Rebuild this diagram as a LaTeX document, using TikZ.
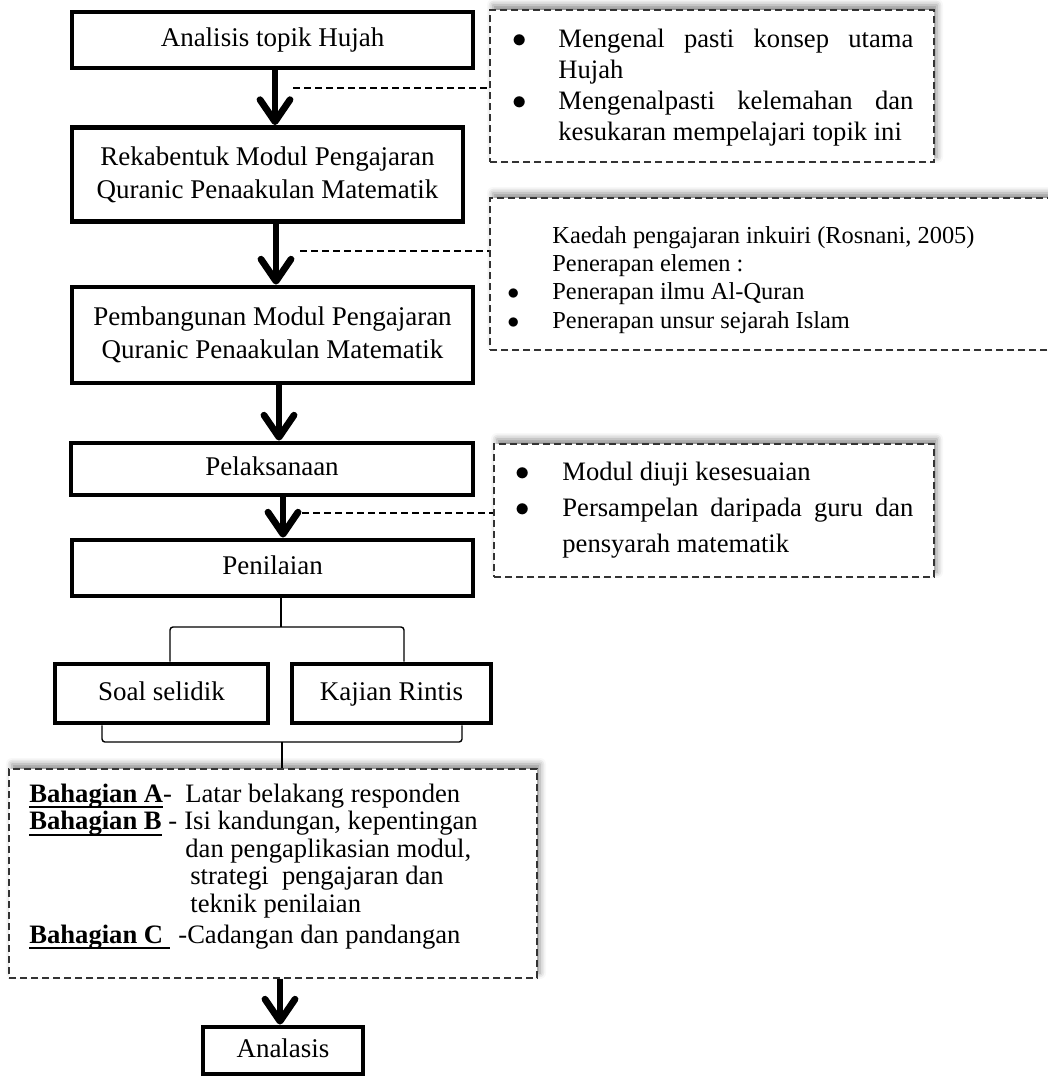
\documentclass[tikz,border=0pt]{standalone}
\usepackage{fontspec}
\setmainfont{Liberation Serif}
\usetikzlibrary{arrows.meta,shadows.blur,positioning}

\newcommand{\garis}[1]{\setbox0\hbox{\textbf{#1}}\rlap{\rule[-3.2pt]{\wd0}{1.1pt}}\box0}

\tikzset{
  stage/.style={draw, line width=2.4pt, align=center, inner sep=0pt,
    font=\fontsize{13.5}{16.5}\selectfont},
  oneline/.style={text height=9.5pt, text depth=3pt},
  note/.style={draw=black!80, dash pattern=on 3.5pt off 2pt, line width=0.7pt,
    fill=white, inner sep=0pt,
    blur shadow={shadow xshift=1.5pt, shadow yshift=2.5pt,
      shadow blur radius=3pt, shadow opacity=45}},
  notetext/.style={anchor=base west, inner sep=0pt,
    font=\fontsize{13.3}{15.5}\selectfont},
  flow/.style={line width=3.4pt,
    -{Straight Barb[length=11pt, width=15pt, round]}},
  hint/.style={dash pattern=on 3.5pt off 2pt, line width=0.7pt},
  link/.style={line width=0.7pt, rounded corners=1.5pt}
}

\begin{document}
\begin{tikzpicture}[x=0.5pt, y=-0.5pt]
  \useasboundingbox (0,0) rectangle (1048,1078);
  \clip (0,0) rectangle (1048,1078);

  % main stages
  \node[stage, oneline, minimum width=200.5pt, minimum height=28pt] (topik) at (272.5,40) {Analisis topik Hujah};
  \node[stage, minimum width=195.5pt, minimum height=47pt] (reka) at (267.5,174.5) {Rekabentuk Modul Pengajaran\\Quranic Penaakulan Matematik};
  \node[stage, minimum width=200.5pt, minimum height=48pt] (bina) at (272.5,335) {Pembangunan Modul Pengajaran\\Quranic Penaakulan Matematik};
  \node[stage, oneline, minimum width=201pt, minimum height=26pt] (laksana) at (272,469) {Pelaksanaan};
  \node[stage, oneline, minimum width=200.5pt, minimum height=28pt] (nilai) at (272.5,568) {Penilaian};
  \node[stage, oneline, minimum width=106.5pt, minimum height=29.5pt] (soal) at (161.5,693.5) {Soal selidik};
  \node[stage, oneline, minimum width=99.5pt, minimum height=29.5pt] (rintis) at (391.5,693.5) {Kajian Rintis};
  \node[stage, oneline, minimum width=80pt, minimum height=23.5pt] (analasis) at (283,1050.5) {Analasis};

  % dashed notes
  \node[note, minimum width=222pt, minimum height=76pt] (n1) at (712,86) {};
  \node[note, minimum width=290pt, minimum height=76pt] (n2) at (780,274) {};
  \node[note, minimum width=220pt, minimum height=66.5pt] (n3) at (714,510.5) {};
  \node[note, minimum width=264pt, minimum height=104.5pt] (n4) at (273,873.5) {};

  \node[notetext] (t1) at (512,47) {\begin{tabular}[t]{@{}p{23pt}@{}p{177.5pt}@{}}
    $\bullet$ & Mengenal pasti konsep utama\linebreak Hujah\\
    $\bullet$ & Mengenalpasti kelemahan dan\linebreak kesukaran mempelajari topik ini
  \end{tabular}};
  \node[notetext, font=\fontsize{12.2}{14.2}\selectfont] (t2) at (507,243) {\begin{tabular}[t]{@{}p{22.5pt}@{}l@{}}
    & Kaedah pengajaran inkuiri (Rosnani, 2005)\\
    & Penerapan elemen :\\
    $\bullet$ & Penerapan ilmu Al-Quran\\
    $\bullet$ & Penerapan unsur sejarah Islam
  \end{tabular}};
  \node[notetext, font=\fontsize{13.3}{18}\selectfont] (t3) at (515,480) {\begin{tabular}[t]{@{}p{23.5pt}@{}p{175.5pt}@{}}
    $\bullet$ & Modul diuji kesesuaian\\
    $\bullet$ & Persampelan daripada guru dan\linebreak pensyarah matematik
  \end{tabular}};
  \node[notetext, font=\fontsize{13.3}{13.8}\selectfont] (t4) at (29,802) {\begin{tabular}[t]{@{}l@{}}
    \makebox[78pt][l]{\garis{Bahagian A}-}Latar belakang responden\\
    \makebox[77.5pt][l]{\garis{Bahagian B}\ -}Isi kandungan, kepentingan\\
    \hspace*{78pt}dan pengaplikasian modul,\\
    \hspace*{80.5pt}strategi\ \ pengajaran dan\\
    \hspace*{80.5pt}teknik penilaian\\[1.5pt]
    \makebox[74.5pt][l]{\garis{Bahagian C\ }}-Cadangan dan pandangan
  \end{tabular}};

  % arrows
  \coordinate (x1) at (275,0);
  \coordinate (x2) at (276,0);
  \coordinate (x3) at (279,0);
  \coordinate (x4) at (283,0);
  \coordinate (x5) at (280,0);
  \draw[flow] (topik.south -| x1) -- (reka.north -| x1);
  \draw[flow] (reka.south -| x2) -- (bina.north -| x2);
  \draw[flow] (bina.south -| x3) -- (laksana.north -| x3);
  \draw[flow] (laksana.south -| x4) -- (nilai.north -| x4);
  \draw[flow] (n4.south -| x5) -- (analasis.north -| x5);

  % dashed hints
  \coordinate (h1) at (293,88);
  \coordinate (h2) at (300,251);
  \coordinate (h3) at (302,513);
  \draw[hint] (h1) -- (h1 -| n1.west);
  \draw[hint] (h2) -- (h2 -| n2.west);
  \draw[hint] (h3) -- (h3 -| n3.west);

  % branch to Soal selidik and Kajian Rintis
  \coordinate (split) at (281,627);
  \coordinate (cl) at (170,627);
  \coordinate (cr) at (404,627);
  \draw[link] (nilai.south -| split) -- (split);
  \draw[link] (soal.north -| cl) -- (cl) -- (cr) -- (rintis.north -| cr);

  \coordinate (join) at (282,742);
  \coordinate (bl) at (102,742);
  \coordinate (br) at (462,742);
  \draw[link] (soal.south -| bl) -- (bl) -- (br) -- (rintis.south -| br);
  \draw[link] (join) -- (n4.north -| join);
\end{tikzpicture}
\end{document}
